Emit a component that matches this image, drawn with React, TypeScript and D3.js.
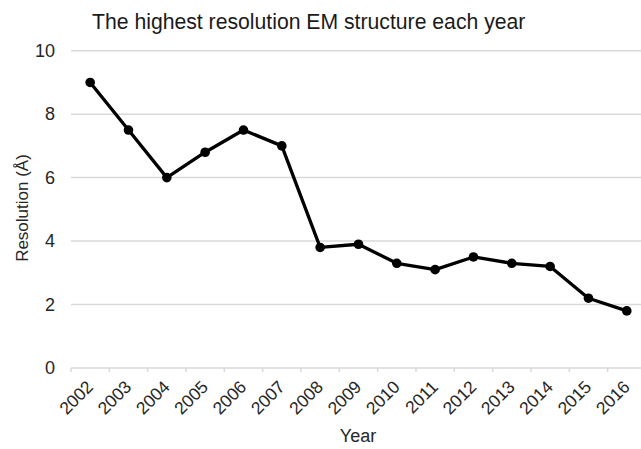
import React from "react";
import * as d3 from "d3";

const years = ["2002","2003","2004","2005","2006","2007","2008","2009","2010","2011","2012","2013","2014","2015","2016"];
const resolution = [9.0, 7.5, 6.0, 6.8, 7.5, 7.0, 3.8, 3.9, 3.3, 3.1, 3.5, 3.3, 3.2, 2.2, 1.8];
const yTicks = [0, 2, 4, 6, 8, 10];
const title = "The highest resolution EM structure each year";
const xTitle = "Year";
const yTitle = "Resolution (Å)";

const W = 641;
const H = 449;
const FONT = "'Liberation Sans', Arial, sans-serif";

export default function App() {
  const x = d3.scaleBand<string>().domain(years).range([71, 71 + 15 * 38.33]).padding(0);
  const y = d3.scaleLinear().domain([0, 10]).range([368, 50.7]);
  const data = years.map((yr, i) => ({ yr, v: resolution[i] }));
  const line = d3
    .line<{ yr: string; v: number }>()
    .x((d) => (x(d.yr) as number) + x.bandwidth() / 2)
    .y((d) => y(d.v));
  const [x0, x1] = x.range();
  return (
    <svg
      width={W}
      height={H}
      style={{ position: "absolute", left: 0, top: 0, background: "#fff" }}
      fontFamily={FONT}
    >
      <rect x={0} y={0} width={W} height={H} fill="#fff" />
      <text x={92} y={29} fontSize={21.2} fill="#1a1a1a">
        {title}
      </text>
      {yTicks.map((t) => (
        <g key={t}>
          <line x1={x0} x2={x1} y1={y(t)} y2={y(t)} stroke="#d9d9d9" strokeWidth={1.5} />
          <text x={55} y={y(t)} dy="0.35em" textAnchor="end" fontSize={18} fill="#262626">
            {t}
          </text>
        </g>
      ))}
      {years.concat(["end"]).map((yr, i) => {
        const px = x0 + i * x.step();
        return <line key={"t" + i} x1={px} x2={px} y1={y(0)} y2={y(0) + 4} stroke="#d9d9d9" strokeWidth={1.5} />;
      })}
      {years.map((yr) => {
        const cx = (x(yr) as number) + x.bandwidth() / 2 + 4;
        const cy = 388;
        return (
          <text
            key={yr}
            x={cx}
            y={cy}
            textAnchor="end"
            fontSize={17.5}
            fill="#262626"
            transform={`rotate(-45 ${cx} ${cy})`}
          >
            {yr}
          </text>
        );
      })}
      <text x={358} y={442} textAnchor="middle" fontSize={18} fill="#262626">
        {xTitle}
      </text>
      <text
        x={0}
        y={0}
        textAnchor="middle"
        fontSize={17}
        fill="#262626"
        transform={`translate(28 208) rotate(-90)`}
      >
        {yTitle}
      </text>
      <path d={line(data) as string} fill="none" stroke="#000" strokeWidth={3.3} strokeLinejoin="round" />
      {data.map((d) => (
        <circle key={d.yr} cx={(x(d.yr) as number) + x.bandwidth() / 2} cy={y(d.v)} r={4.8} fill="#000" />
      ))}
    </svg>
  );
}
